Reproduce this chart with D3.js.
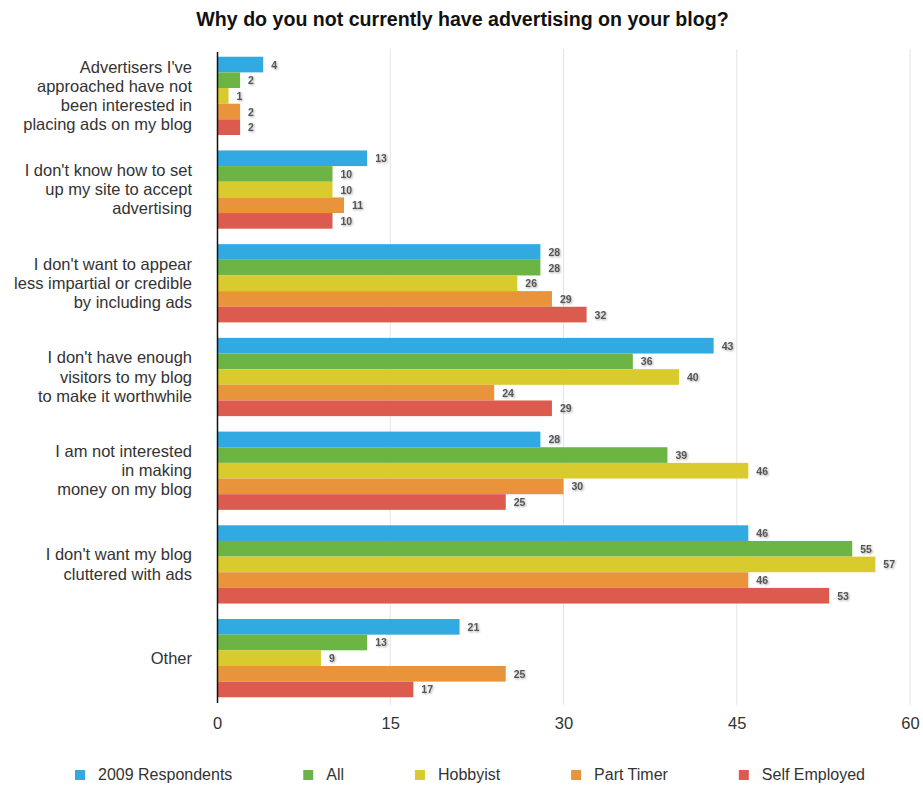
<!DOCTYPE html>
<html><head><meta charset="utf-8">
<script src="https://cdn.jsdelivr.net/npm/d3@7"></script>
<style>body{margin:0;background:#fff;} svg{display:block;font-family:"Liberation Sans",Arial,sans-serif;}</style>
</head><body>
<svg id="c" width="923" height="785"></svg>
<script>
const title = "Why do you not currently have advertising on your blog?";
const categories = [
  ["Advertisers I've", "approached have not", "been interested in", "placing ads on my blog"],
  ["I don't know how to set", "up my site to accept", "advertising"],
  ["I don't want to appear", "less impartial or credible", "by including ads"],
  ["I don't have enough", "visitors to my blog", "to make it worthwhile"],
  ["I am not interested", "in making", "money on my blog"],
  ["I don't want my blog", "cluttered with ads"],
  ["Other"]
];
const seriesNames = ["2009 Respondents", "All", "Hobbyist", "Part Timer", "Self Employed"];
const respondents2009 = [4, 13, 28, 43, 28, 46, 21];
const all = [2, 10, 28, 36, 39, 55, 13];
const hobbyist = [1, 10, 26, 40, 46, 57, 9];
const partTimer = [2, 11, 29, 24, 30, 46, 25];
const selfEmployed = [2, 10, 32, 29, 25, 53, 17];
const xTicks = [0, 15, 30, 45, 60];
const colors = ["#31a9e1", "#6cb545", "#d9ca2d", "#e9943a", "#dd5a4e"];
const seriesValues = [respondents2009, all, hobbyist, partTimer, selfEmployed];

const svg = d3.select("#c");
const mLeft = 217, mRight = 910, mTop = 49, mBottom = 705;

const defs = svg.append("defs");
const f = defs.append("filter").attr("id","sh").attr("x","-20%").attr("y","-20%").attr("width","160%").attr("height","160%");
f.append("feDropShadow").attr("dx",1).attr("dy",1).attr("stdDeviation",0.8).attr("flood-color","#000").attr("flood-opacity",0.35);

const x = d3.scaleLinear().domain([0, 60]).range([mLeft, mRight]);
const y0 = d3.scaleBand().domain(d3.range(categories.length)).range([mTop, mBottom]).paddingInner(0.165).paddingOuter(0.0825);
const y1 = d3.scaleBand().domain(d3.range(seriesNames.length)).range([0, y0.bandwidth()]);

// grid
svg.append("g").selectAll("line").data(xTicks.filter(d=>d>0)).join("line")
  .attr("x1",d=>x(d)).attr("x2",d=>x(d)).attr("y1",mTop).attr("y2",mBottom)
  .attr("stroke","#e4e4e4").attr("stroke-width",1);

// bars
const g = svg.append("g");
categories.forEach((c, i) => {
  seriesValues.forEach((vals, s) => {
    g.append("rect").attr("x", x(0)).attr("y", y0(i) + y1(s))
      .attr("width", x(vals[i]) - x(0)).attr("height", y1.bandwidth())
      .attr("fill", colors[s]);
    g.append("text").attr("x", x(vals[i]) + 8).attr("y", y0(i) + y1(s) + y1.bandwidth()/2 + 4)
      .attr("font-size", 10.5).attr("font-weight","bold").attr("fill","#555").attr("filter","url(#sh)")
      .text(vals[i]);
  });
});

// axis line
svg.append("line").attr("x1",x(0)+0.5).attr("x2",x(0)+0.5).attr("y1",mTop+3).attr("y2",mBottom-2)
  .attr("stroke","#111").attr("stroke-width",1.5);

// x tick labels
const xAxis = d3.axisBottom(x).tickValues(xTicks).tickSize(0).tickPadding(0);
const ax = svg.append("g").attr("transform",`translate(0,${mBottom+24})`).call(xAxis);
ax.select(".domain").remove();
ax.selectAll("text").attr("dy",0).attr("font-size",16.5).attr("fill","#333").attr("font-family","Liberation Sans, Arial, sans-serif");

// category labels
categories.forEach((lines, i) => {
  const cy = y0(i) + y0.bandwidth()/2;
  const lh = 19.2;
  const t = svg.append("text").attr("text-anchor","end").attr("font-size",16.5).attr("fill","#333");
  lines.forEach((ln, k) => {
    t.append("tspan").attr("x",192).attr("y", cy + (k - (lines.length-1)/2)*lh + 5.5).text(ln);
  });
});

// title
svg.append("text").attr("x",462.5).attr("y",25.5).attr("text-anchor","middle")
  .attr("font-size",19.6).attr("font-weight","bold").attr("fill","#111").text(title);

// legend: equal gaps between items
const legStart = 75, legEnd = 865, sw = 23;
const tmp = svg.append("text").attr("font-size",16);
const widths = seriesNames.map(n => { tmp.text(n); return sw + tmp.node().getComputedTextLength(); });
tmp.remove();
const gap = (legEnd - legStart - d3.sum(widths)) / (seriesNames.length - 1);
let cx = legStart;
seriesNames.forEach((n, s) => {
  svg.append("rect").attr("x",cx).attr("y",770).attr("width",10).attr("height",10).attr("fill",colors[s]);
  svg.append("text").attr("x",cx+sw).attr("y",780).attr("font-size",16).attr("fill","#333").text(n);
  cx += widths[s] + gap;
});
</script>
</body></html>
